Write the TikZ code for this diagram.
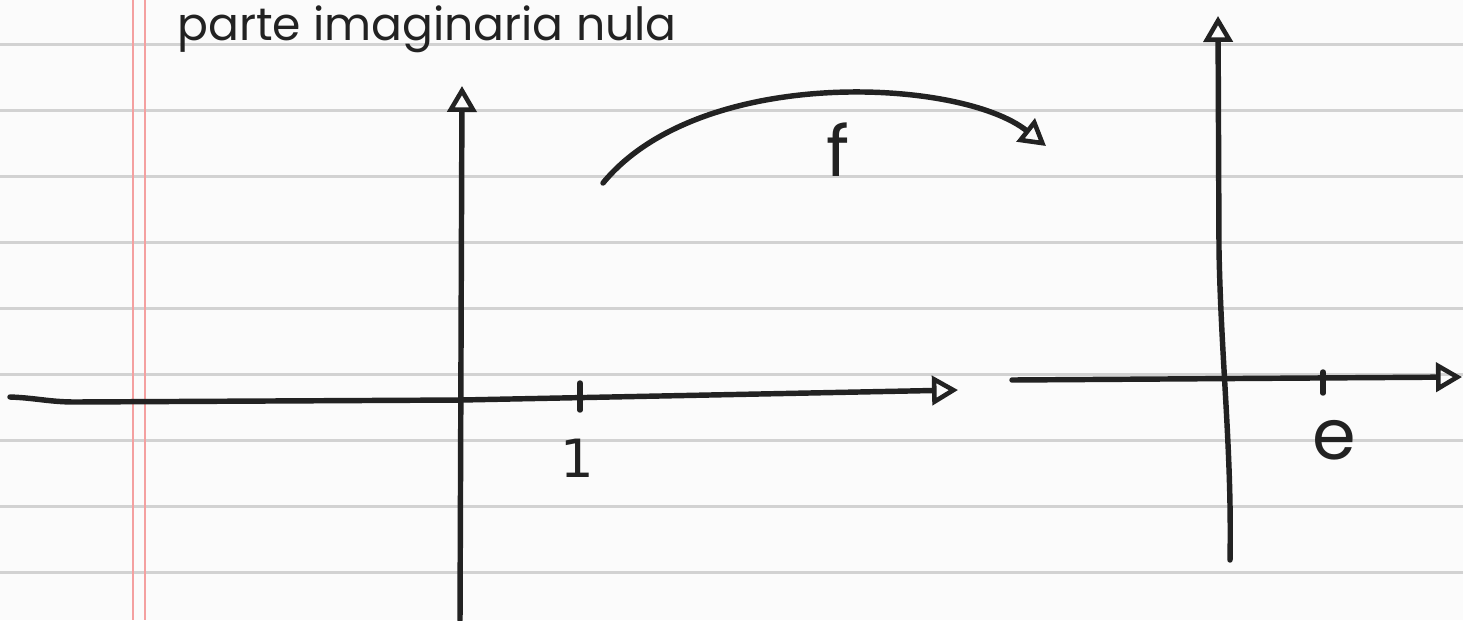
\documentclass[tikz,border=0pt]{standalone}
\usepackage{fontspec}
\setmainfont{Poppins}
\newfontfamily\digitfont{DejaVu Sans}
\usepackage{xcolor}
\usetikzlibrary{arrows.meta,calc}
\definecolor{ink}{HTML}{222222}
\definecolor{rule}{HTML}{D2D2D2}
\definecolor{margin}{HTML}{F4A0A0}
\definecolor{paper}{HTML}{FBFBFB}
\tikzset{
  pen/.style={draw=ink, line width=3.1pt, line cap=round, line join=round},
  axisarr/.style={pen, -{Triangle[open, length=5.2mm, width=5.8mm, line width=2.6pt]}},
  tickmark/.style={pen},
  hand/.style={text=ink, inner sep=0pt, font=\fontsize{#1}{#1}\selectfont},
  hand/.default=36pt,
}

\begin{document}
\begin{tikzpicture}[x=0.02cm, y=-0.02cm]
  % the sheet and its ruling
  \useasboundingbox[fill=paper] (0,0) rectangle (1463,620);
  \foreach \k in {0,...,8}
    \draw[rule, line width=1.4pt] (0,{44.7+66*\k}) -- (1463,{44.7+66*\k});
  \draw[margin, line width=1.1pt] (133,0) -- (133,620);
  \draw[margin, line width=1.1pt] (145,0) -- (145,620);

  % heading
  \node[hand=26pt, anchor=base west] (title) at (177,40) {parte imaginaria nula};

  % left plane: real axis and imaginary axis
  \coordinate (lxs) at (10,397);
  \coordinate (lo) at (461,400);
  \coordinate (lxe) at (958,390);
  \coordinate (lys) at (460,620);
  \coordinate (lye) at (462,86);
  \draw[axisarr] (lxs) to[out=-2, in=180] (75,402) -- (lo) -- (lxe);
  \draw[axisarr] (lys) -- (lye);
  \coordinate (one) at (580,396);
  \draw[tickmark] ($(one)+(0,-13)$) -- ($(one)+(0,14)$);
  \node[text=ink, inner sep=0pt, font={\digitfont\fontsize{30pt}{30pt}\selectfont}] (onelab) at (577,458) {1};

  % the map f
  \coordinate (fs) at (603,183);
  \coordinate (fe) at (1046,146);
  \draw[axisarr] (fs) .. controls (700,65) and (960,78) .. (fe);
  \node[hand=40pt] (flab) at (838,150) {f};

  % right plane
  \coordinate (rxs) at (1012,380);
  \coordinate (rxe) at (1462,377);
  \coordinate (rys) at (1230,560);
  \coordinate (rye) at (1218,16);
  \draw[axisarr] (rxs) -- (rxe);
  \draw[axisarr] (rys) .. controls (1232,450) and (1221,360) .. (1219,250) -- (rye);
  \coordinate (ee) at (1323,382);
  \draw[tickmark] ($(ee)+(0,-10)$) -- ($(ee)+(0,11)$);
  \node[hand=40pt] (elab) at (1334,440) {e};
\end{tikzpicture}
\end{document}
